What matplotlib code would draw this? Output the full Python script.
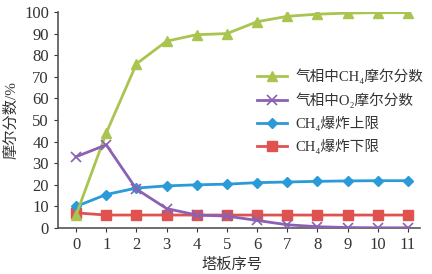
import matplotlib
matplotlib.use("Agg")
import matplotlib.pyplot as plt

plates = [0, 1, 2, 3, 4, 5, 6, 7, 8, 9, 10, 11]
ch4 = [6, 44, 76, 86.5, 89.5, 90, 95.5, 98, 99, 99.5, 99.7, 99.7]
o2 = [33, 38.5, 18, 9, 6, 5.5, 3.5, 1.5, 0.6, 0.2, 0.1, 0.1]
upper = [10, 15.5, 18.5, 19.5, 20, 20.3, 21, 21.3, 21.6, 21.8, 21.9, 21.9]
lower = [7, 6, 6, 6, 6, 6, 6, 6, 6, 6, 6, 6]
yticks = [0, 10, 20, 30, 40, 50, 60, 70, 80, 90, 100]
labels = ['气相中CH₄摩尔分数', '气相中O₂摩尔分数', 'CH₄爆炸上限', 'CH₄爆炸下限']

fam = ['Liberation Serif', 'Noto Sans CJK SC', 'DejaVu Serif']
plt.rcParams['font.family'] = fam

fig = plt.figure(figsize=(4.32, 2.74), dpi=100)
ax = fig.add_axes([58/432, 1 - 228/274, (420-58)/432, (228-12)/274])

c_ch4 = '#a9c550'
c_o2 = '#8b62b3'
c_up = '#2a9ad8'
c_lo = '#e0524f'

ax.plot(plates, ch4, color=c_ch4, lw=2, marker='^', ms=7, label=labels[0], zorder=3)
ax.plot(plates, o2, color=c_o2, lw=2, marker='x', ms=7, mew=1.2, label=labels[1], zorder=4)
ax.plot(plates, upper, color=c_up, lw=2, marker='D', ms=5, label=labels[2], zorder=2)
ax.plot(plates, lower, color=c_lo, lw=2, marker='s', ms=7, label=labels[3], zorder=1)

ax.set_xlim(-0.6, 11.4)
ax.set_ylim(0, 100)
ax.set_xticks(plates)
ax.set_yticks(yticks)
ax.tick_params(labelsize=12, colors='#333333', length=3)
for s in ['top', 'right']:
    ax.spines[s].set_visible(False)
for s in ['left', 'bottom']:
    ax.spines[s].set_color('#555555')
    ax.spines[s].set_linewidth(1.2)

ax.set_ylabel('摩尔分数/%', fontsize=11, color='#333333', labelpad=4)
ax.set_xlabel('塔板序号', fontsize=11, color='#333333', labelpad=2)
ax.xaxis.set_label_coords(0.48, -0.14)

leg = ax.legend(loc='center right', bbox_to_anchor=(1.025, 0.54), frameon=False, fontsize=10.5,
                handlelength=2.0, labelspacing=0.55, borderaxespad=0.0, handletextpad=0.6)
for t in leg.get_texts():
    t.set_color('#333333')

fig.savefig('out.png', dpi=100)
